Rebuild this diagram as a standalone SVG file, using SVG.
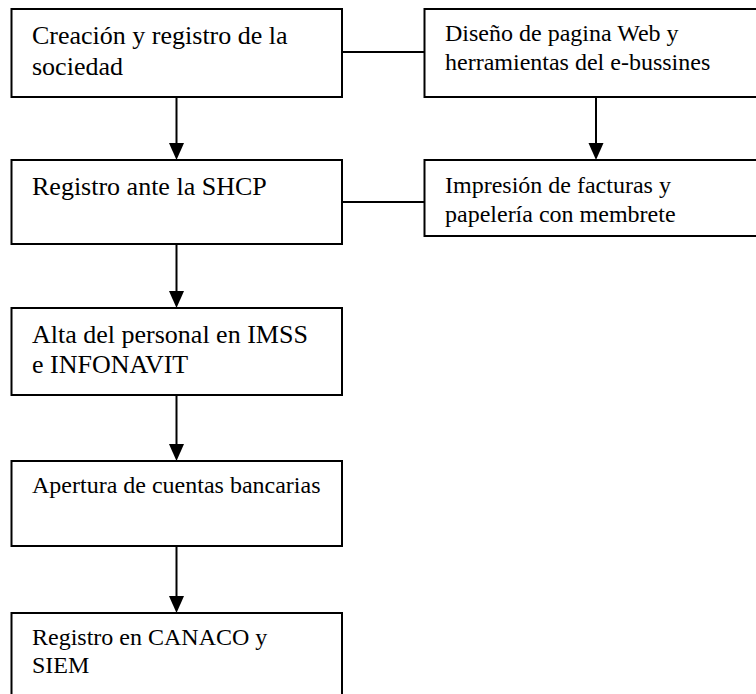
<svg xmlns="http://www.w3.org/2000/svg" width="756" height="694" viewBox="0 0 756 694">
  <style>
    .box { fill: #ffffff; stroke: #000000; stroke-width: 2; }
    .link { stroke: #000000; stroke-width: 2; fill: none; }
    .arrow { stroke: #000000; stroke-width: 2; fill: none; marker-end: url(#head); }
  </style>
  <defs>
    <marker id="head" markerUnits="userSpaceOnUse" markerWidth="17" markerHeight="16" refX="9" refY="7.5" orient="auto">
      <path d="M0,0 L17,7.5 L0,15 Z" fill="#000000"/>
    </marker>
  </defs>
  <rect width="756" height="694" fill="#ffffff"/>

  <g id="connectors">
    <line class="link" x1="342" y1="52" x2="424" y2="52"/>
    <line class="link" x1="342" y1="202" x2="424" y2="202"/>
    <line class="arrow" x1="176.5" y1="97" x2="176.5" y2="152"/>
    <line class="arrow" x1="596" y1="97" x2="596" y2="152"/>
    <line class="arrow" x1="176.5" y1="244" x2="176.5" y2="300"/>
    <line class="arrow" x1="176.5" y1="395" x2="176.5" y2="453"/>
    <line class="arrow" x1="176.5" y1="546" x2="176.5" y2="605"/>
  </g>

  <g font-family="Liberation Serif, Times New Roman, DejaVu Serif, serif" fill="#000000">
    <g id="creacion" font-size="26">
      <rect class="box" x="11.5" y="9" width="330.5" height="88"/>
      <text x="32" y="44">Creación y registro de la</text>
      <text x="32" y="75">sociedad</text>
    </g>

    <g id="diseno-web" font-size="24">
      <rect class="box" x="424.5" y="9" width="340" height="88"/>
      <text x="445" y="41">Diseño de pagina Web y</text>
      <text x="445" y="70">herramientas del e-bussines</text>
    </g>

    <g id="registro-shcp" font-size="26">
      <rect class="box" x="11.5" y="160" width="330.5" height="84"/>
      <text x="32" y="195">Registro ante la SHCP</text>
    </g>

    <g id="impresion" font-size="24">
      <rect class="box" x="424.5" y="160" width="340" height="76"/>
      <text x="445" y="193">Impresión de facturas y</text>
      <text x="445" y="222">papelería con membrete</text>
    </g>

    <g id="alta-personal" font-size="26">
      <rect class="box" x="11.5" y="308" width="330.5" height="87"/>
      <text x="32" y="343">Alta del personal en IMSS</text>
      <text x="32" y="373">e INFONAVIT</text>
    </g>

    <g id="apertura-cuentas" font-size="24">
      <rect class="box" x="11.5" y="461" width="330.5" height="85"/>
      <text x="32" y="493">Apertura de cuentas bancarias</text>
    </g>

    <g id="registro-canaco" font-size="24">
      <rect class="box" x="11.5" y="613" width="330.5" height="100"/>
      <text x="32" y="645">Registro en CANACO y</text>
      <text x="32" y="673">SIEM</text>
    </g>
  </g>
</svg>
